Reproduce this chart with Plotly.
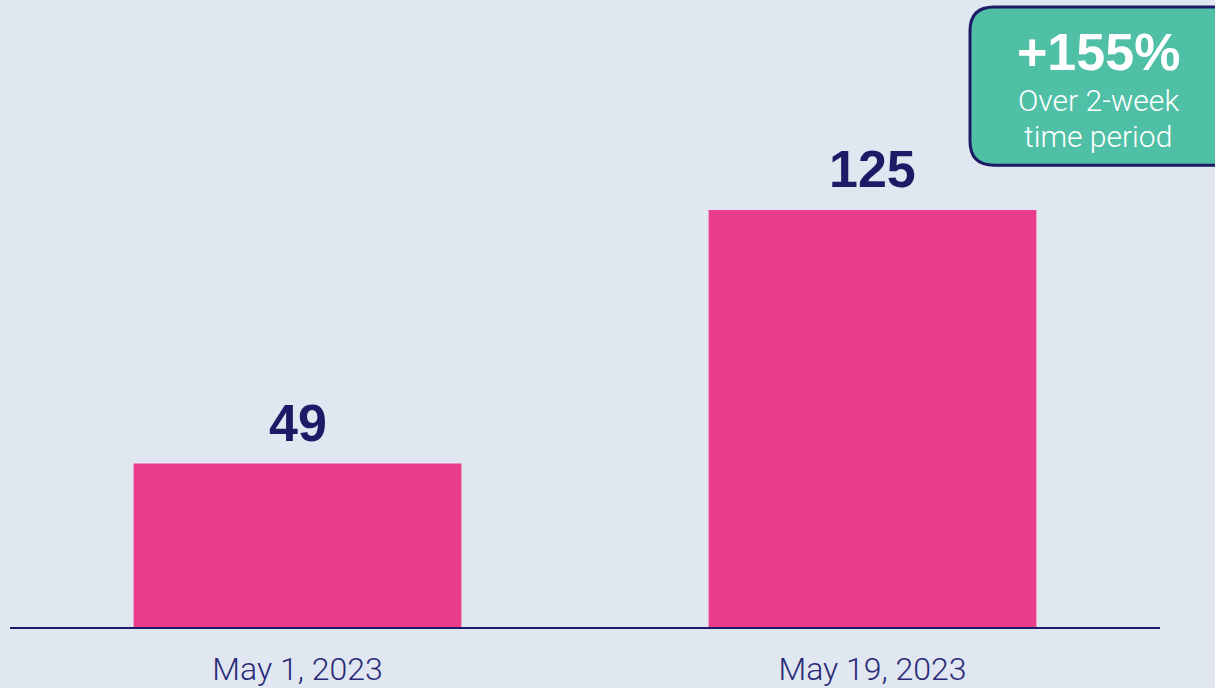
import plotly.graph_objects as go

categories = ["May 1, 2023", "May 19, 2023"]
values = [49, 125]
badge_main = "+155%"
badge_sub = ["Over 2-week", "time period"]

W, H = 1215, 688
L, R, T, B = 10, 55, 0, 58
BG = "#e0e7f1"
NAVY = "#1e1a66"
PINK = "#ec3d8c"
TEAL = "#4fbfa5"

fig = go.Figure()
fig.add_trace(go.Bar(
    x=categories, y=values, marker=dict(color=PINK, line=dict(width=0)),
    width=0.57, hoverinfo="skip",
))

for c, v in zip(categories, values):
    fig.add_annotation(x=c, y=v, xref="x", yref="y", text=f"<b>{v}</b>",
                       showarrow=False, yanchor="bottom", yshift=10,
                       font=dict(family="Liberation Sans, Arial", size=52, color=NAVY))

pw, ph = W - L - R, H - T - B
def px(xp):
    return (xp - L) / pw
def py(yp):
    return (H - B - yp) / ph

x0, x1, y0, y1, r = 970, 1240, 7, 166, 24
path = (f"M {px(x0 + r)},{py(y0)} L {px(x1 - r)},{py(y0)} "
        f"Q {px(x1)},{py(y0)} {px(x1)},{py(y0 + r)} L {px(x1)},{py(y1 - r)} "
        f"Q {px(x1)},{py(y1)} {px(x1 - r)},{py(y1)} L {px(x0 + r)},{py(y1)} "
        f"Q {px(x0)},{py(y1)} {px(x0)},{py(y1 - r)} L {px(x0)},{py(y0 + r)} "
        f"Q {px(x0)},{py(y0)} {px(x0 + r)},{py(y0)} Z")
fig.add_shape(type="path", path=path, xref="paper", yref="paper",
              fillcolor=TEAL, line=dict(color=NAVY, width=3), layer="above")

fig.add_annotation(x=px(1098), y=py(52), xref="paper", yref="paper",
                   text=f"<b>{badge_main}</b>", showarrow=False,
                   xanchor="center", yanchor="middle",
                   font=dict(family="Liberation Sans, Arial", size=52, color="white"))
for i, line in enumerate(badge_sub):
    fig.add_annotation(x=px(1098), y=py(101 + 36 * i), xref="paper", yref="paper",
                       text=line, showarrow=False,
                       xanchor="center", yanchor="middle",
                       font=dict(family="Roboto", size=30, color="white", weight=300))

fig.update_layout(
    width=W, height=H, margin=dict(l=L, r=R, t=T, b=B),
    paper_bgcolor=BG, plot_bgcolor=BG, showlegend=False,
    xaxis=dict(showgrid=False, showline=True, linecolor=NAVY, linewidth=2,
               ticks="", ticklabelstandoff=13,
               tickfont=dict(family="Roboto", size=32, color="#2a2a78", weight=300)),
    yaxis=dict(range=[0, (H - B - T) / (419 / 125)], visible=False, showgrid=False,
               zeroline=False),
)

fig.write_html("out.html", config={"displayModeBar": False},
               post_script="document.body.style.margin='0';document.body.style.background='%s';" % BG)
